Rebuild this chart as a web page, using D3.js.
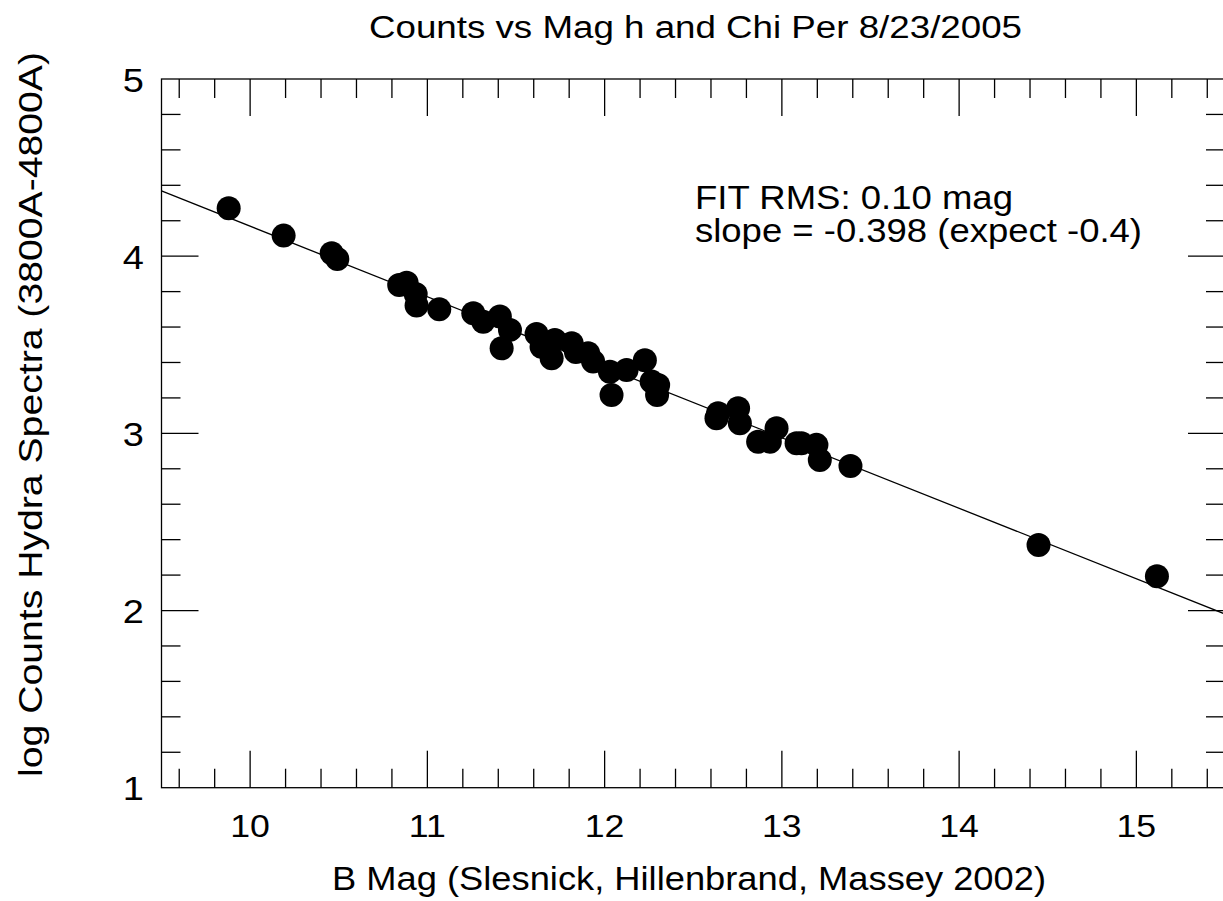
<!DOCTYPE html>
<html><head><meta charset="utf-8">
<script src="https://cdn.jsdelivr.net/npm/d3@7"></script>
<style>html,body{margin:0;padding:0;background:#fff;} svg{display:block;}</style>
</head><body>
<script>
const bMag = [9.879,10.189,10.460,10.492,10.841,10.883,10.934,10.939,11.067,11.259,11.315,11.409,11.466,11.419,11.616,11.644,11.701,11.719,11.814,11.838,11.907,11.935,12.030,12.039,12.124,12.227,12.265,12.302,12.296,12.640,12.631,12.753,12.763,12.866,12.932,12.970,13.083,13.110,13.195,13.214,13.387,14.448,15.116];
const logCounts = [4.270,4.116,4.016,3.984,3.837,3.850,3.787,3.721,3.700,3.678,3.630,3.659,3.584,3.480,3.561,3.489,3.424,3.527,3.508,3.459,3.452,3.405,3.348,3.217,3.358,3.413,3.292,3.273,3.217,3.113,3.085,3.142,3.057,2.953,2.953,3.029,2.944,2.944,2.935,2.850,2.816,2.370,2.194];
const fitIntercept = 4.368; // value at x = 9.5
const fitSlope = -0.398;
const xTicks = [10,11,12,13,14,15];
const yTicks = [1,2,3,4,5];
const titleText = "Counts vs Mag h and Chi Per 8/23/2005";
const xLabel = "B Mag (Slesnick, Hillenbrand, Massey 2002)";
const yLabel = "log Counts Hydra Spectra (3800A-4800A)";
const legendLines = ["FIT RMS: 0.10 mag", "slope = -0.398 (expect -0.4)"];

const W = 1223, H = 901;
const L = 161.5, R = 1225, T = 79, B = 787.7;
const font = "'Liberation Sans', Arial, Helvetica, sans-serif";

const svg = d3.select("body").append("svg").attr("width", W).attr("height", H);
const x = d3.scaleLinear().domain([9.5, 15.5]).range([L, R]);
const y = d3.scaleLinear().domain([1, 5]).range([B, T]);

function stretch(sel, len) {
  sel.each(function(){
    const n = this.getComputedTextLength();
    const target = (typeof len === "number") ? len : n * 1.15;
    d3.select(this).attr("textLength", target).attr("lengthAdjust", "spacingAndGlyphs");
  });
}

// frame
svg.append("rect").attr("x", L).attr("y", T).attr("width", R - L).attr("height", B - T)
  .attr("fill", "none").attr("stroke", "#000").attr("stroke-width", 1.3);

const g = svg.append("g").attr("stroke", "#000").attr("stroke-width", 1.3);
const xMinor = d3.range(9.6, 15.5, 0.2).map(v => +v.toFixed(1));
const yMinor = d3.range(1.2, 5, 0.2).map(v => +v.toFixed(1));
const isMajor = v => Math.abs(v - Math.round(v)) < 1e-6;
xMinor.forEach(v => {
  const len = isMajor(v) ? 37 : 19;
  g.append("line").attr("x1", x(v)).attr("x2", x(v)).attr("y1", B).attr("y2", B - len);
  g.append("line").attr("x1", x(v)).attr("x2", x(v)).attr("y1", T).attr("y2", T + len);
});
yMinor.forEach(v => {
  const len = isMajor(v) ? 37 : 19;
  g.append("line").attr("y1", y(v)).attr("y2", y(v)).attr("x1", L).attr("x2", L + len);
  g.append("line").attr("y1", y(v)).attr("y2", y(v)).attr("x1", R).attr("x2", R - len);
});

// tick labels
svg.append("g").selectAll("text").data(xTicks).join("text")
  .attr("x", d => x(d)).attr("y", 836.7).attr("text-anchor", "middle")
  .attr("font-family", font).attr("font-size", 31).text(d => d)
  .call(stretch);
svg.append("g").selectAll("text").data(yTicks).join("text")
  .attr("x", 144).attr("y", d => y(d) + 12.5).attr("text-anchor", "end")
  .attr("font-family", font).attr("font-size", 33).text(d => d)
  .call(stretch);

// fit line
svg.append("line")
  .attr("x1", x(9.5)).attr("y1", y(fitIntercept))
  .attr("x2", x(15.5)).attr("y2", y(fitIntercept + fitSlope * 6))
  .attr("stroke", "#000").attr("stroke-width", 1.3);

// points
const pts = bMag.map((b, i) => [b, logCounts[i]]);
svg.append("g").selectAll("circle").data(pts).join("circle")
  .attr("cx", d => x(d[0])).attr("cy", d => y(d[1])).attr("r", 12).attr("fill", "#000");

// title
svg.append("text").attr("x", 695.5).attr("y", 38).attr("text-anchor", "middle")
  .attr("font-family", font).attr("font-size", 31).text(titleText).call(stretch, 653);
// x label
svg.append("text").attr("x", 689).attr("y", 890).attr("text-anchor", "middle")
  .attr("font-family", font).attr("font-size", 34).text(xLabel).call(stretch, 714);
// y label
svg.append("text").attr("transform", "translate(42,414.5) rotate(-90)").attr("text-anchor", "middle")
  .attr("font-family", font).attr("font-size", 34).text(yLabel).call(stretch, 725);
// legend
svg.append("text").attr("x", 695).attr("y", 209).attr("font-family", font).attr("font-size", 33)
  .text(legendLines[0]).call(stretch, 318);
svg.append("text").attr("x", 695).attr("y", 241.7).attr("font-family", font).attr("font-size", 33)
  .text(legendLines[1]).call(stretch, 447);
</script>
</body></html>
